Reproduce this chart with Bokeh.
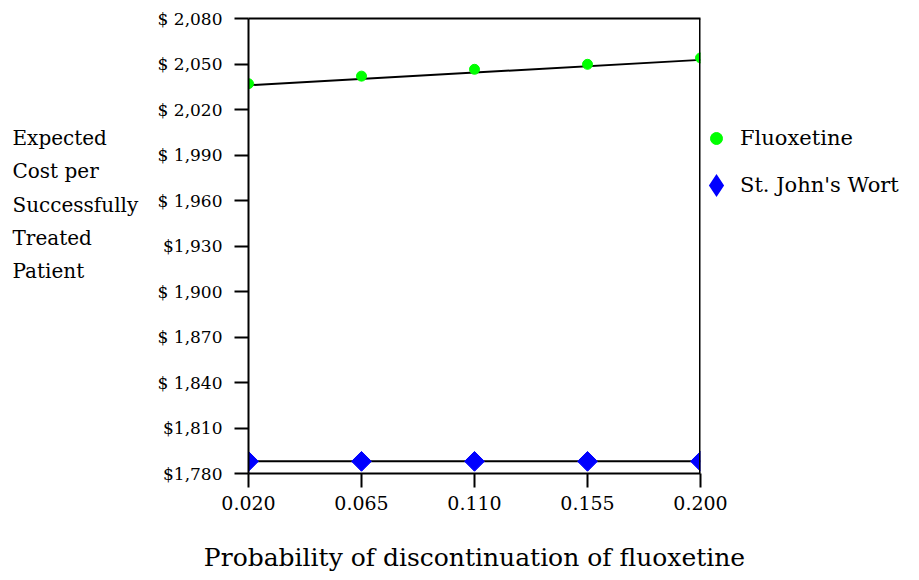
import numpy as np
from bokeh.plotting import figure
from bokeh.layouts import row
from bokeh.models import (Range1d, FixedTicker, Legend, LegendItem, Label,
                          ColumnDataSource, LinearAxis, Span)
from bokeh.embed import file_html
from bokeh.resources import INLINE

# ---- data ----
prob_discontinuation = [0.020, 0.065, 0.110, 0.155, 0.200]
x_tick_labels = ["0.020", "0.065", "0.110", "0.155", "0.200"]
fluoxetine_cost = [2037, 2042, 2046.5, 2049.8, 2054]
st_johns_wort_cost = [1788, 1788, 1788, 1788, 1788]
y_ticks = [1780, 1810, 1840, 1870, 1900, 1930, 1960, 1990, 2020, 2050, 2080]
y_tick_labels = ["$1,780", "$1,810", "$ 1,840", "$ 1,870", "$ 1,900", "$1,930",
                 "$ 1,960", "$ 1,990", "$ 2,020", "$ 2,050", "$ 2,080"]
y_title_lines = ["Expected", "Cost per", "Successfully", "Treated", "Patient"]
x_title = "Probability of discontinuation of fluoxetine"
series_names = ["Fluoxetine", "St. John's Wort"]

FONT = "DejaVu Serif"
TOP, FRAME_H, BOTTOM = 18, 455, 103
LEFT_W = 150     # width of the panel holding the horizontal y-axis title

# ---------------- main chart ----------------
p = figure(frame_width=452, frame_height=FRAME_H,
           x_range=Range1d(0.02, 0.2), y_range=Range1d(1780, 2080),
           output_backend="svg", toolbar_location=None,
           min_border_left=248 - LEFT_W, min_border_right=205,
           min_border_top=TOP, min_border_bottom=BOTTOM)

p.xgrid.visible = False
p.ygrid.visible = False
p.outline_line_color = None
p.background_fill_color = "white"
p.border_fill_color = "white"

for ax in (p.xaxis[0], p.yaxis[0]):
    ax.axis_line_color = "black"
    ax.axis_line_width = 2
    ax.major_tick_line_color = "black"
    ax.major_tick_line_width = 2
    ax.major_tick_in = 0
    ax.major_tick_out = 14
    ax.minor_tick_line_color = None
    ax.major_label_text_font = FONT
    ax.major_label_text_color = "black"

p.xaxis.ticker = FixedTicker(ticks=prob_discontinuation)
p.xaxis.major_label_overrides = {t: l for t, l in zip(prob_discontinuation, x_tick_labels)}
p.xaxis.major_label_standoff = 8
p.xaxis.major_label_text_font_size = "19px"
p.xaxis.axis_label = x_title
p.xaxis.axis_label_text_font = FONT
p.xaxis.axis_label_text_font_size = "25px"
p.xaxis.axis_label_text_font_style = "normal"
p.xaxis.axis_label_text_color = "black"
p.xaxis.axis_label_standoff = 30

p.yaxis.ticker = FixedTicker(ticks=y_ticks)
p.yaxis.major_label_overrides = {t: l for t, l in zip(y_ticks, y_tick_labels)}
p.yaxis.major_label_standoff = 12
p.yaxis.major_label_text_font_size = "17px"

# top edge of the box
top_edge = LinearAxis(ticker=FixedTicker(ticks=[]), axis_line_color="black",
                      axis_line_width=2, major_tick_line_color=None,
                      minor_tick_line_color=None, major_tick_out=0, major_tick_in=0,
                      major_label_standoff=0, major_label_text_font_size="0px")
p.add_layout(top_edge, "above")
# right edge of the box
p.add_layout(Span(location=p.x_range.end, dimension="height",
                  line_color="black", line_width=3))

# fluoxetine trend line (least-squares fit of the data)
coef = np.polyfit(prob_discontinuation, fluoxetine_cost, 1)
fit_x = [prob_discontinuation[0], prob_discontinuation[-1]]
fit_y = [float(np.polyval(coef, v)) - 1.5 for v in fit_x]
p.line(fit_x, fit_y, line_color="black", line_width=2)
# St. John's Wort line
p.line(prob_discontinuation, st_johns_wort_cost, line_color="black", line_width=2)

src_f = ColumnDataSource(dict(x=prob_discontinuation, y=fluoxetine_cost))
src_s = ColumnDataSource(dict(x=prob_discontinuation, y=st_johns_wort_cost))
r_f = p.scatter("x", "y", source=src_f, marker="circle", size=10,
                fill_color="#00FF00", line_color="#00FF00")
r_s = p.scatter("x", "y", source=src_s, marker="square", size=14, angle=np.pi / 4,
                fill_color="#0000FF", line_color="#0000FF")
# legend swatch for St. John's Wort drawn as a diamond (no visible point)
r_s_key = p.scatter(x=[np.nan], y=[np.nan], marker="diamond", fill_color="#0000FF",
                    line_color="#0000FF", line_width=6, line_join="miter")

legend = Legend(items=[LegendItem(label=series_names[0], renderers=[r_f]),
                       LegendItem(label=series_names[1], renderers=[r_s_key])],
                location=(1, 273), padding=0, border_line_color=None,
                background_fill_alpha=0, glyph_width=30, glyph_height=30,
                label_height=20, label_standoff=9, spacing=17,
                label_text_font=FONT, label_text_font_size="21px",
                label_text_color="black")
p.add_layout(legend, "right")

# ---------------- horizontal y-axis title ----------------
pt = figure(frame_width=LEFT_W, frame_height=FRAME_H,
            x_range=Range1d(0, LEFT_W), y_range=Range1d(0, FRAME_H),
            output_backend="svg", toolbar_location=None,
            min_border_left=0, min_border_right=0,
            min_border_top=TOP, min_border_bottom=BOTTOM,
            x_axis_location=None, y_axis_location=None)
pt.xgrid.visible = False
pt.ygrid.visible = False
pt.outline_line_color = None
line_centers = [137, 170, 204, 237, 270]   # from top of page
for txt, yc in zip(y_title_lines, line_centers):
    pt.add_layout(Label(x=12, y=TOP + FRAME_H - yc, text=txt, text_font=FONT,
                        text_font_size="20px", text_color="black",
                        text_align="left", text_baseline="middle"))

layout = row(pt, p)
open("out.html", "w").write(file_html(layout, INLINE))
